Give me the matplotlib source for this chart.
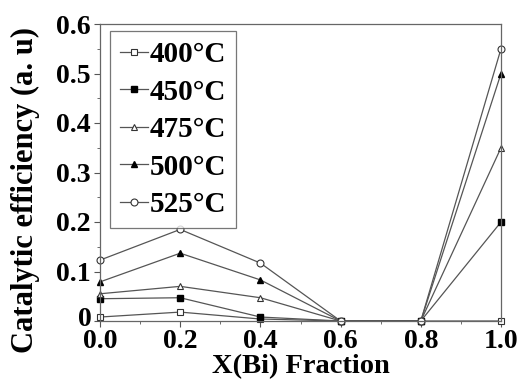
import numpy as np
import matplotlib.pyplot as plt
from matplotlib.ticker import MultipleLocator

plt.rcParams['font.family'] = ['Liberation Serif', 'DejaVu Serif']
plt.rcParams['font.weight'] = 'bold'

x = [0.0, 0.2, 0.4, 0.6, 0.8, 1.0]
t400 = [0.008, 0.018, 0.004, 0.0, 0.0, 0.0]
t450 = [0.045, 0.047, 0.008, 0.0, 0.0, 0.2]
t475 = [0.055, 0.07, 0.047, 0.0, 0.0, 0.35]
t500 = [0.079, 0.137, 0.083, 0.0, 0.0, 0.5]
t525 = [0.123, 0.185, 0.117, 0.0, 0.0, 0.55]
labels = ['400°C', '450°C', '475°C', '500°C', '525°C']

fig = plt.figure(figsize=(5.21, 3.85), dpi=100)
ax = fig.add_axes([100/521, 1 - 321/385, 401/521, 297/385])

lc = '#555555'
ax.plot(x, t400, '-s', c=lc, lw=0.9, ms=4.5, mfc='white', mec='#333333', mew=0.8, label=labels[0], clip_on=False)
ax.plot(x, t450, '-s', c=lc, lw=0.9, ms=4.5, mfc='black', mec='black', label=labels[1], clip_on=False)
ax.plot(x, t475, '-^', c=lc, lw=0.9, ms=5, mfc='white', mec='#333333', mew=0.8, label=labels[2], clip_on=False)
ax.plot(x, t500, '-^', c=lc, lw=0.9, ms=5, mfc='black', mec='black', label=labels[3], clip_on=False)
ax.plot(x, t525, '-o', c=lc, lw=0.9, ms=5, mfc='white', mec='#333333', mew=0.8, label=labels[4], clip_on=False)

ax.set_xlim(0, 1.0)
ax.set_ylim(0, 0.6)
ax.set_xticks([0.0, 0.2, 0.4, 0.6, 0.8, 1.0])
ax.set_xticklabels(['0.0', '0.2', '0.4', '0.6', '0.8', '1.0'])
ax.set_yticks([0, 0.1, 0.2, 0.3, 0.4, 0.5, 0.6])
# the "0" is drawn separately below, a touch higher, so it clears "0.0"
ax.set_yticklabels(['', '0.1', '0.2', '0.3', '0.4', '0.5', '0.6'])
ax.xaxis.set_minor_locator(MultipleLocator(0.1))
ax.yaxis.set_minor_locator(MultipleLocator(0.05))
ax.tick_params(which='both', direction='out', colors='#555555', labelcolor='black',
               labelsize=20, top=False, right=False)
ax.tick_params(which='major', length=4, width=0.8)
ax.tick_params(which='minor', length=2.5, width=0.6)
ax.tick_params(axis='x', pad=2)
ax.tick_params(axis='y', pad=3)
for s in ax.spines.values():
    s.set_color('#666666')
    s.set_linewidth(0.9)

ax.annotate('0', xy=(0, 0), xycoords=('axes fraction', 'data'), xytext=(-6, 3),
            textcoords='offset points', ha='right', va='center_baseline',
            fontsize=20, fontweight='bold')

ax.set_xlabel('X(Bi) Fraction', fontsize=20.5, fontweight='bold', labelpad=0)
ax.set_ylabel('Catalytic efficiency (a. u)', fontsize=22, fontweight='bold')
ax.yaxis.set_label_coords(-0.15, 0.44)

leg = ax.legend(loc='upper left', bbox_to_anchor=(0.025, 0.977), fontsize=21, frameon=True,
                fancybox=False, edgecolor='#555555', handlelength=0.95, handletextpad=0.05,
                labelspacing=0.36, borderpad=0.35, borderaxespad=0)
leg.get_frame().set_linewidth(0.9)

plt.savefig('out.png', dpi=100)
plt.close()
